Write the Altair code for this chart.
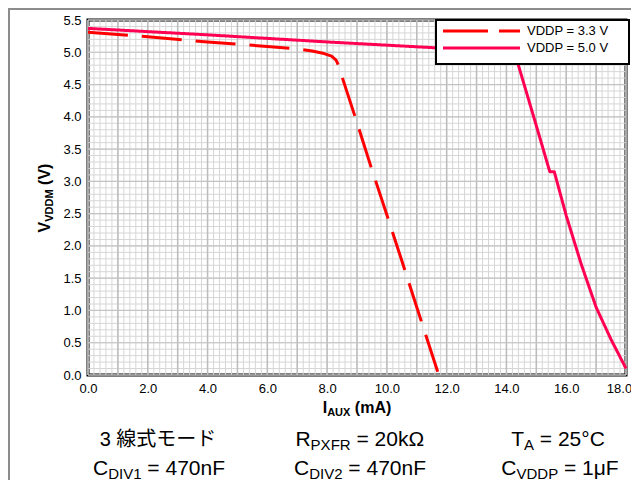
import altair as alt
import pandas as pd

# ---------------- data ----------------
series = ["VDDP = 3.3 V", "VDDP = 5.0 V"]

i_33 = [0.0, 2.0, 4.0, 6.0, 7.0, 7.5, 7.9, 8.15, 8.3, 8.4, 8.5, 9.0, 9.5, 10.0, 10.5, 11.0, 11.7]
v_33 = [5.31, 5.24, 5.16, 5.09, 5.05, 5.02, 4.98, 4.94, 4.88, 4.78, 4.62, 3.91, 3.18, 2.48, 1.77, 1.05, 0.05]

i_50 = [0.0, 4.0, 8.0, 11.6, 14.0, 14.25, 14.4, 14.95, 15.45, 15.6, 16.0, 16.5, 17.0, 17.5, 18.0]
v_50 = [5.37, 5.27, 5.16, 5.07, 5.01, 4.98, 4.8, 3.94, 3.15, 3.15, 2.47, 1.72, 1.05, 0.55, 0.1]

x_ticks = [0.0, 2.0, 4.0, 6.0, 8.0, 10.0, 12.0, 14.0, 16.0, 18.0]
y_ticks = [0.0, 0.5, 1.0, 1.5, 2.0, 2.5, 3.0, 3.5, 4.0, 4.5, 5.0, 5.5]

x_minor = [round(k * 0.2, 1) for k in range(91)]
x_major = [float(k) for k in range(19)]
y_minor = [round(k * 0.1, 1) for k in range(56)]
y_major = y_ticks

RED = "#ff0000"
PINK = "#ff0052"
FONT = "Liberation Sans"
W, H = 538, 355

# ---------------- tables ----------------
rows = []
for s, xs, ys in [(series[0], i_33, v_33), (series[1], i_50, v_50)]:
    for k, (a, b) in enumerate(zip(xs, ys)):
        rows.append({"s": s, "i": a, "v": b, "o": k})
df = pd.DataFrame(rows)

x_scale = alt.Scale(domain=[0, 18], nice=False, zero=False)
y_scale = alt.Scale(domain=[0, 5.5], nice=False, zero=False)
x_axis = alt.Axis(values=x_ticks, format=".1f", title=None, grid=False, domain=False,
                  ticks=False, tickSize=0, labelPadding=7, labelFont=FONT, labelFontSize=13,
                  labelColor="black", labelFlush=False, labelOverlap=False,
                  labelOffset={"condition": {"test": "datum.value >= 18", "value": -7}, "value": 0})
y_axis = alt.Axis(values=y_ticks, format=".1f", title=None, grid=False, domain=False,
                  ticks=False, tickSize=0, labelPadding=7, labelFont=FONT, labelFontSize=13,
                  labelColor="black", labelFlush=False, labelOverlap=False)
X = alt.X("i:Q", scale=x_scale, axis=x_axis)
Y = alt.Y("v:Q", scale=y_scale, axis=y_axis)

grid_x_minor = alt.Chart(pd.DataFrame({"i": x_minor})).mark_rule(color="#d6d6d6", strokeWidth=1).encode(x=X)
grid_y_minor = alt.Chart(pd.DataFrame({"v": y_minor})).mark_rule(color="#d6d6d6", strokeWidth=1).encode(y=Y)
grid_x_major = alt.Chart(pd.DataFrame({"i": x_major})).mark_rule(color="#bcbcbc", strokeWidth=1.5).encode(x=X)
grid_y_major = alt.Chart(pd.DataFrame({"v": y_major})).mark_rule(color="#c4c4c4", strokeWidth=1.2).encode(y=Y)

lines = alt.Chart(df).mark_line(strokeWidth=3, strokeCap="butt", strokeJoin="round").encode(
    x=X, y=Y,
    color=alt.Color("s:N", scale=alt.Scale(domain=series, range=[RED, PINK]), legend=None),
    strokeDash=alt.StrokeDash("s:N", scale=alt.Scale(domain=series, range=[[40, 14], [1, 0]]), legend=None),
    order="o:Q",
)

# ---------------- text helpers ----------------
AR = {' ': 278, '=': 584, '.': 278, 'C': 722, 'D': 722, 'I': 278, 'V': 667, 'P': 667, 'X': 667,
      'F': 611, 'R': 722, 'T': 611, 'A': 667, 'n': 556, 'k': 500, 'Ω': 768, 'μ': 576, '°': 400,
      'M': 833, 'U': 722, 'm': 833, '(': 333, ')': 333}
ARB = {' ': 278, 'I': 278, 'A': 722, 'U': 722, 'X': 667, '(': 333, 'm': 889, ')': 333,
       'V': 667, 'D': 722, 'M': 833}


def tw(s, size, bold=False):
    tbl = ARB if bold else AR
    return sum(tbl.get(c, 556) for c in s) * size / 1000.0


def compose(pieces, center, base, bold=False, rotated=False):
    """pieces: list of (text, fontsize, drop). Returns list of text layers."""
    total = sum(tw(t, sz, bold) for t, sz, _ in pieces)
    pos = -total / 2.0
    out = []
    for t, sz, drop in pieces:
        lead = len(t) - len(t.lstrip(" "))
        pos_t = pos + tw(" " * lead, sz, bold)
        txt = t.strip(" ")
        if rotated:
            xv, yv, ang = base + drop, center - pos_t, 270
        else:
            xv, yv, ang = center + pos_t, base + drop, 0
        out.append(
            alt.Chart(pd.DataFrame({"t": [txt]})).mark_text(
                align="left", baseline="alphabetic", font=FONT, fontSize=sz,
                fontWeight="bold" if bold else "normal", angle=ang, color="black",
            ).encode(x=alt.value(xv), y=alt.value(yv), text="t:N")
        )
        pos += tw(t, sz, bold)
    return out


ROW1 = H + 71
ROW2 = H + 100

texts = []
texts += compose([("V", 16, 0), ("VDDM", 11, 3), (" (V)", 16, 0)], center=178, base=-38, bold=True, rotated=True)
texts += compose([("I", 16, 0), ("AUX", 11, 3), (" (mA)", 16, 0)], center=269, base=H + 38, bold=True)

texts.append(
    alt.Chart(pd.DataFrame({"t": ["3 線式モード"]})).mark_text(
        align="center", baseline="alphabetic", font="Liberation Sans, Noto Sans CJK JP", fontSize=20, color="black"
    ).encode(x=alt.value(70), y=alt.value(ROW1), text="t:N")
)
texts += compose([("R", 21, 0), ("PXFR", 15, 4), (" = 20kΩ", 21, 0)], center=272, base=ROW1)
texts += compose([("T", 21, 0), ("A", 15, 4), (" = 25°C", 21, 0)], center=470, base=ROW1)
texts += compose([("C", 21, 0), ("DIV1", 15, 3.5), (" = 470nF", 21, 0)], center=71, base=ROW2)
texts += compose([("C", 21, 0), ("DIV2", 15, 3.5), (" = 470nF", 21, 0)], center=272, base=ROW2)
texts += compose([("C", 21, 0), ("VDDP", 15, 3.5), (" = 1μF", 21, 0)], center=472, base=ROW2)

# ---------------- legend box ----------------
one = pd.DataFrame({"a": [0]})
leg_box = alt.Chart(one).mark_rect(fill="white", stroke="black", strokeWidth=2).encode(
    x=alt.value(348), x2=alt.value(541), y=alt.value(0), y2=alt.value(44))
leg_l1 = alt.Chart(one).mark_rule(color=RED, strokeWidth=3, strokeDash=[45, 11], strokeCap="butt").encode(
    x=alt.value(355), x2=alt.value(432), y=alt.value(11))
leg_l2 = alt.Chart(one).mark_rule(color=PINK, strokeWidth=3, strokeCap="butt").encode(
    x=alt.value(355), x2=alt.value(432), y=alt.value(28))
leg_t = alt.Chart(pd.DataFrame({"t": series, "yy": [11, 28]})).mark_text(
    align="left", baseline="middle", font=FONT, fontSize=13, color="black").encode(
    x=alt.value(439), y=alt.Y("yy:Q", scale=None), text="t:N")

# ---------------- figure frame (gray) ----------------
frame_top = alt.Chart(one).mark_rule(color="#8c8c8c", strokeWidth=2).encode(
    x=alt.value(-80), x2=alt.value(560), y=alt.value(-11))
frame_left = alt.Chart(one).mark_rule(color="#8c8c8c", strokeWidth=2).encode(
    x=alt.value(-79), y=alt.value(-12), y2=alt.value(470))

chart = alt.layer(
    grid_x_minor, grid_y_minor, grid_x_major, grid_y_major, lines,
    leg_box, leg_l1, leg_l2, leg_t, frame_top, frame_left, *texts
).properties(
    width=W, height=H,
    padding={"left": 80, "top": 12, "right": 5, "bottom": 105},
    autosize=alt.AutoSizeParams(type="none"),
).configure_view(stroke="black", strokeWidth=3)

chart.save("out.html", embed_options={"renderer": "svg", "actions": False})
